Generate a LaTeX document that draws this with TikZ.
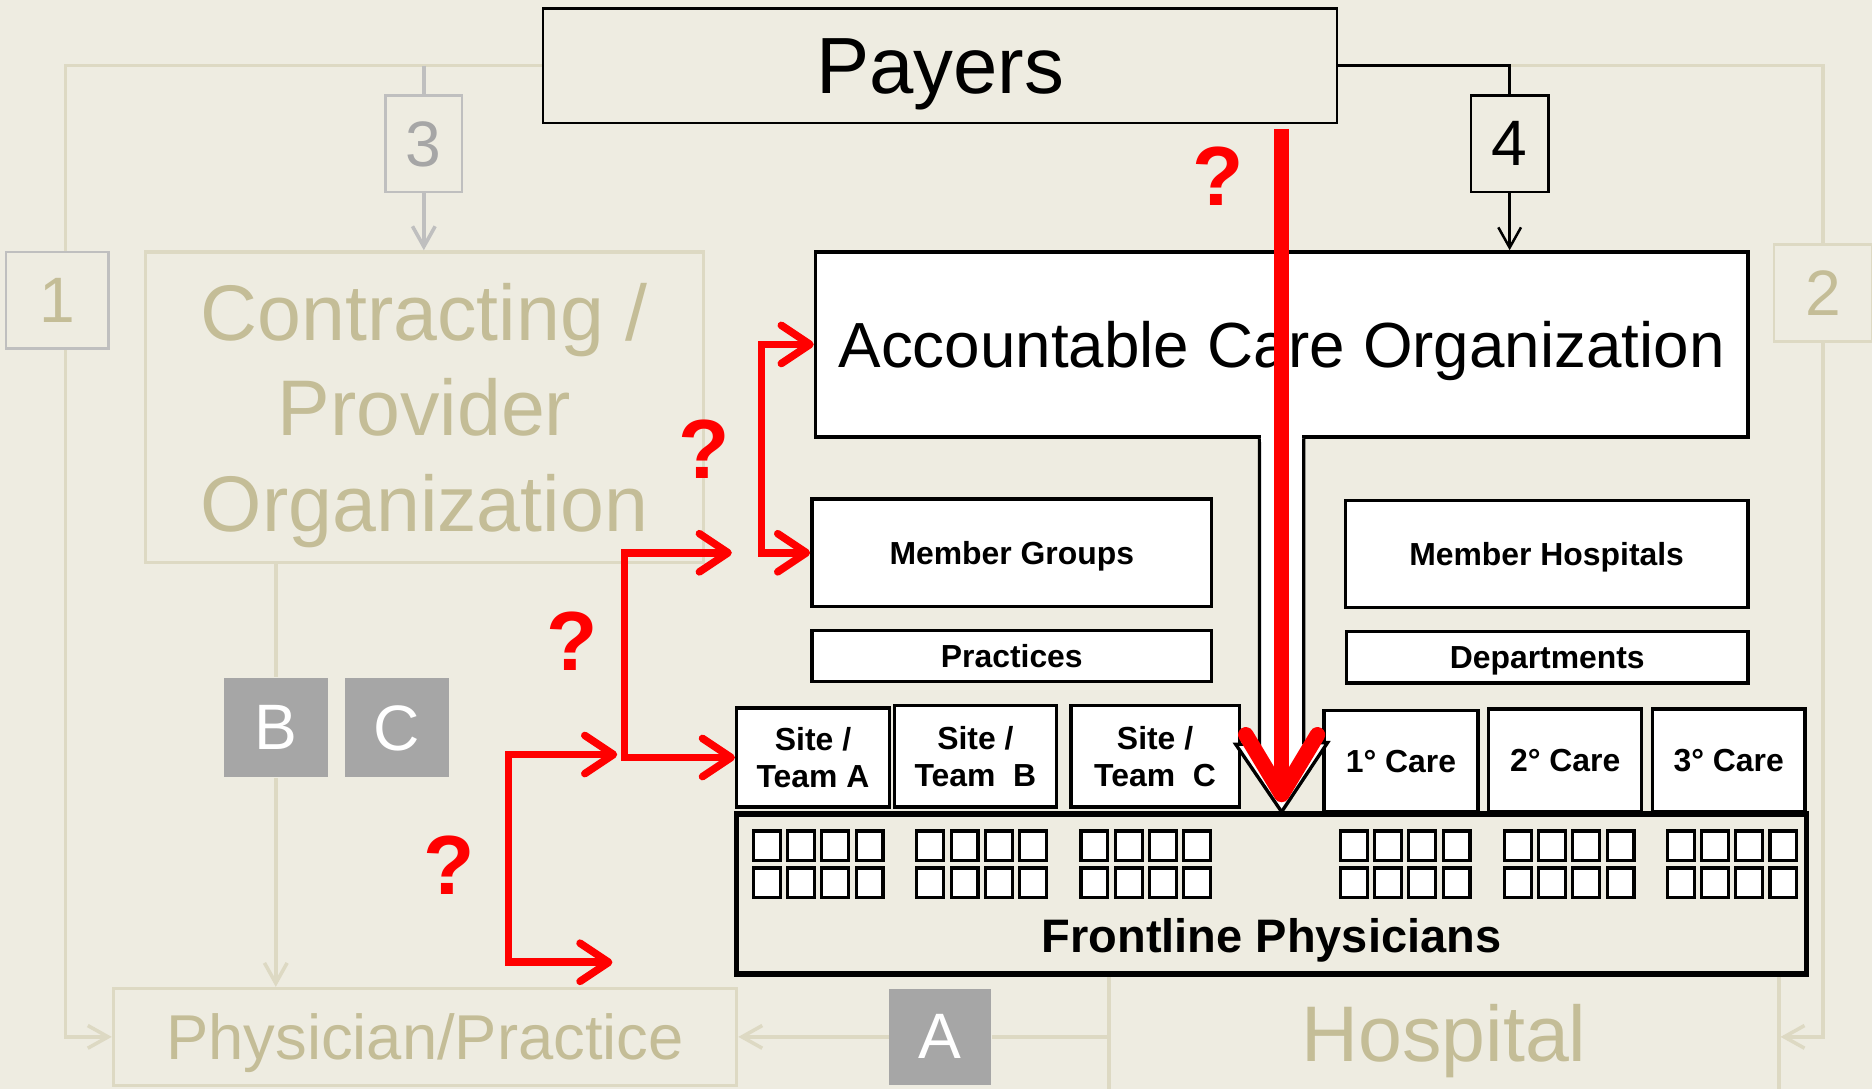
\documentclass[tikz,border=0pt]{standalone}
\usepackage{fontspec}
\setmainfont{Liberation Sans}
\usetikzlibrary{arrows.meta}
\definecolor{bg}{HTML}{EEECE1}
\definecolor{tantext}{HTML}{C4BD97}
\definecolor{tanline}{HTML}{DDD9C3}
\definecolor{greybox}{HTML}{A6A6A6}
\definecolor{greyline}{HTML}{BFBFBF}

\begin{document}
\begin{tikzpicture}[x=0.1mm, y=-0.1mm,
    box/.style={rectangle, inner sep=0pt, text depth=0pt, align=center},
    wbox/.style={box, draw, fill=white, line width=0.8pt, font=\fontsize{7.6}{8.9}\selectfont\bfseries},
    faded/.style={box, draw=tanline, line width=0.8pt, text=tantext},
    letter/.style={box, fill=greybox, text=white, font=\fontsize{15.3}{15.3}\selectfont, minimum width=8.7mm, minimum height=8.3mm},
    num/.style={box, draw, fill=bg, line width=0.6pt, font=\fontsize{15.3}{15.3}\selectfont, minimum height=8.1mm},
    query/.style={text=red, font=\fontsize{20}{20}\selectfont\bfseries},
    tanlink/.style={draw=tanline, line width=0.85pt},
    greylink/.style={draw=greyline, line width=0.85pt},
    barb/.style={-{Straight Barb[length=1.7mm, width=1.9mm]}},
    redlink/.style={draw=red, line width=1.8pt, {Straight Barb[length=2.4mm, width=3.2mm, round]}-{Straight Barb[length=2.4mm, width=3.2mm, round]}},
    bigred/.style={draw=red, line width=3.7pt, -{Straight Barb[length=5mm, width=6mm, round]}}
]
\useasboundingbox (0,0) rectangle (1568,912);
\clip (0,0) rectangle (1568,912);
\fill[bg] (0,0) rectangle (1568,912);

% top row
\node[box, draw, fill=bg, line width=0.6pt, minimum width=66.5mm, minimum height=9.6mm, font=\fontsize{19}{19}\selectfont] (payers) at (787.5,55) {Payers};
\node[num, draw=greyline, text=tantext, minimum width=8.6mm] (one) at (48,251.5) {1};
\node[num, draw=greyline, text=greybox, minimum width=6.4mm] (three) at (355,120.5) {3};
\node[num, minimum width=6.5mm] (four) at (1264.5,120.5) {4};
\node[num, draw=tanline, text=tantext, minimum width=8.2mm] (two) at (1527,245.5) {2};

% faded side
\node[faded, minimum width=46.7mm, minimum height=26mm, font=\fontsize{18.8}{22.8}\selectfont] (cpo) at (355.5,341) {Contracting /\\Provider\\Organization};
\node[letter] (bbox) at (231,609.5) {B};
\node[letter] (cbox) at (332.5,609.5) {C};
\node[faded, minimum width=52.2mm, minimum height=8.1mm, font=\fontsize{15.1}{15.1}\selectfont] (phys) at (356,868.5) {Physician/Practice};
\node[letter, minimum width=8.5mm, minimum height=8.1mm] (abox) at (787.5,868.5) {A};
\node[faded, minimum width=56.1mm, minimum height=14.6mm, font=\fontsize{18.8}{18.8}\selectfont] (hosp) at (1209.5,865) {Hospital};

% ACO side
\node[wbox, minimum width=78.1mm, minimum height=15.5mm, font=\fontsize{15.2}{15.2}\selectfont] (aco) at (1073.5,288.5) {Accountable Care Organization};
\node[wbox, minimum width=33.5mm, minimum height=9mm] (mgroups) at (847.5,463) {Member Groups};
\node[wbox, minimum width=33.5mm, minimum height=4.3mm] (practices) at (847.5,549.5) {Practices};
\node[wbox, minimum width=33.7mm, minimum height=9mm] (mhosp) at (1295.5,464) {Member Hospitals};
\node[wbox, minimum width=33.6mm, minimum height=4.3mm] (depts) at (1296,550.5) {Departments};
\node[wbox, minimum width=12.8mm, minimum height=8.3mm] (siteA) at (681,634.5) {Site /\\Team A};
\node[wbox, minimum width=13.6mm, minimum height=8.5mm] (siteB) at (817,633.5) {Site /\\Team~~B};
\node[wbox, minimum width=14.1mm, minimum height=8.5mm] (siteC) at (967.5,633.5) {Site /\\Team~~C};
\node[wbox, minimum width=12.9mm, minimum height=8.5mm] (care1) at (1173.5,637.5) {1° Care};
\node[wbox, minimum width=12.8mm, minimum height=8.6mm] (care2) at (1311,637) {2° Care};
\node[wbox, minimum width=12.8mm, minimum height=8.6mm] (care3) at (1448,637) {3° Care};

\node[box, draw, fill=bg, line width=1.3pt, minimum width=89.6mm, minimum height=13.4mm] (front) at (1065,749) {};
\node[font=\fontsize{11.2}{11.2}\selectfont\bfseries, text depth=0pt] (frontlbl) at (1065,783.5) {Frontline Physicians};
\foreach \gx in {631,768,905.5,1122.7,1260,1396.5}
  \foreach \i in {0,1,2,3}
    \foreach \r in {0,1}
      \draw[fill=white, line width=0.75pt] (\gx+\i*28.7,696+\r*31) rectangle ++(22.5,25);

% faded links
\draw[tanlink] (payers.west) -| ([xshift=0.7mm]one.north);
\draw[tanlink, barb] ([xshift=0.7mm]one.south) |- (phys.west);
\draw[greylink] (payers.west -| three.north) -- (three.north);
\draw[greylink, barb] (three.south) -- (three.south |- cpo.north);
\draw[tanlink] (bbox.north |- cpo.south) -- (bbox.north);
\draw[tanlink, barb] (bbox.south) -- (bbox.south |- phys.north);
\draw[tanlink, barb] (abox.west) -- (phys.east);
\draw[tanlink] (abox.east) -- (abox.east -| hosp.west);
\draw[tanlink] (payers.east -| four.north) -| (two.north);
\draw[tanlink, barb] (two.south) |- (abox.east -| hosp.east);

% payer link to ACO
\draw[line width=0.6pt] (payers.east) -| (four.north);
\draw[line width=0.6pt, barb] (four.south) -- (four.south |- aco.north);

% block arrow out of the ACO
\coordinate (tip) at (1073.5,680);
\filldraw[fill=white, line width=0.8pt] ([xshift=-1.85mm]aco.south) -- ++(0,256) -- ++(-20,0) -- (tip) -- ++(38.5,-58) -- ++(-20,0) -- ([xshift=1.85mm]aco.south);
\fill[white] ([xshift=-1.7mm, yshift=0.3mm]aco.south) rectangle ([xshift=1.7mm, yshift=-0.3mm]aco.south);
\draw[bigred, shorten <=0.4mm, shorten >=0.8mm] (tip |- payers.south) -- (tip);

% red brackets
\coordinate (b1) at (638,463);
\coordinate (e2) at (613,463);
\coordinate (b2) at (523,634.5);
\coordinate (e3a) at (517,632);
\coordinate (b3) at (426,806);
\coordinate (e3b) at (513,806);
\draw[redlink] (aco.west) -| (b1) -- (mgroups.west);
\draw[redlink] (e2) -| (b2) -- (siteA.west);
\draw[redlink] (e3a) -| (b3) -- (e3b);

\node[query] (q1) at (1020,148) {?};
\node[query] (q2) at (590,376) {?};
\node[query] (q3) at (479,537) {?};
\node[query] (q4) at (376,725) {?};
\end{tikzpicture}
\end{document}
